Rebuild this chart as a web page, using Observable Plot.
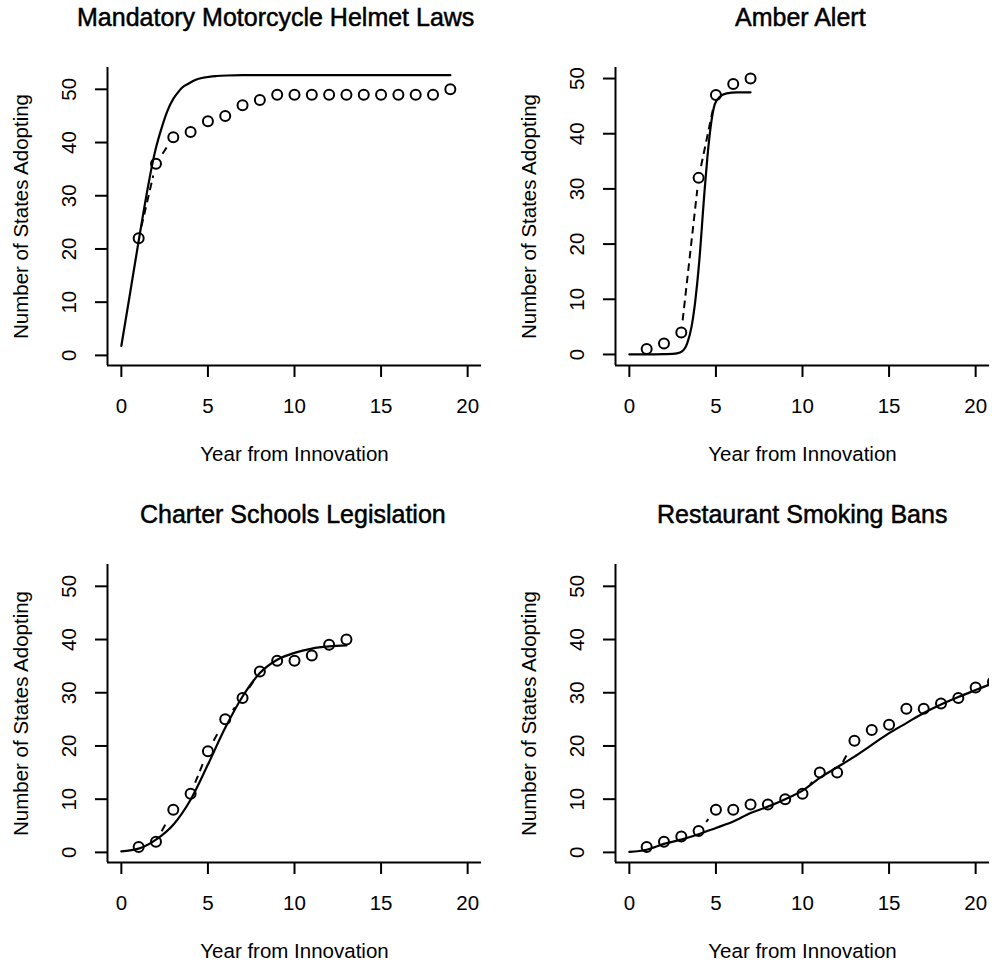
<!DOCTYPE html>
<html>
<head>
<meta charset="utf-8">
<script src="https://cdn.jsdelivr.net/npm/d3@7"></script>
<script src="https://cdn.jsdelivr.net/npm/@observablehq/plot@0.6"></script>
<style>
html, body { margin: 0; padding: 0; background: #fff; overflow: hidden; }
#root { position: relative; width: 992px; height: 963px; overflow: hidden; background: #fff;
  font-family: "Liberation Sans", Arial, Helvetica, sans-serif; }
.panel { position: absolute; width: 496px; height: 497px; }
.panel svg { max-width: none !important; width: 496px; height: 497px; display: block; }
.title { position: absolute; font-size: 25px; line-height: 25px; font-weight: normal; white-space: nowrap; color: #000;
  -webkit-text-stroke: 0.5px #000; }
</style>
</head>
<body>
<div id="root"></div>
<script>
// ---------- data ----------
const xTicks = [0, 5, 10, 15, 20];
const yTicks = [0, 10, 20, 30, 40, 50];
const xLabel = "Year from Innovation";
const yLabel = "Number of States Adopting";

const helmetTitle = "Mandatory Motorcycle Helmet Laws";
const helmetYears = [1,2,3,4,5,6,7,8,9,10,11,12,13,14,15,16,17,18,19];
const helmetStates = [22,36,41,42,44,45,47,48,49,49,49,49,49,49,49,49,49,49,50];
const helmetFitX = [0,0.5,1,1.5,1.83,2.0,2.35,2.68,3.0,3.22,3.5,3.89,4.3,4.76,5.5,6.1,7,9,12,16,19];
const helmetFitY = [1.8,11.6,21.5,31,36.6,39,43,46.1,48.2,49.2,50.3,51.1,51.8,52.2,52.5,52.6,52.65,52.65,52.65,52.65,52.65];

const amberTitle = "Amber Alert";
const amberYears = [1,2,3,4,5,6,7];
const amberStates = [1,2,4,32,47,49,50];
const amberFitX = [0,1,2,2.5,2.75,3.02,3.34,3.59,3.8,4.04,4.33,4.5,4.69,4.94,5.2,5.62,6.2,7];
const amberFitY = [0,0,0.05,0.1,0.2,0.5,2.0,5.0,9.5,17.0,29.1,35.5,41.1,45.4,46.6,47.3,47.5,47.5];

const charterTitle = "Charter Schools Legislation";
const charterYears = [1,2,3,4,5,6,7,8,9,10,11,12,13];
const charterStates = [1,2,8,11,19,25,29,34,36,36,37,39,40];
const charterFitX = [0,1,2,3,4,5,6,7,8,9,10,11,12,13];
const charterFitY = [0.2,0.7,2.4,5.2,9.9,16.5,23.4,29.3,33.7,36.2,37.5,38.3,38.7,38.9];

const smokingTitle = "Restaurant Smoking Bans";
const smokingYears = [1,2,3,4,5,6,7,8,9,10,11,12,13,14,15,16,17,18,19,20,21];
const smokingStates = [1,2,3,4,8,8,9,9,10,11,15,15,21,23,24,27,27,28,29,31,32];
const smokingFitX = [0,1,2,3,4,5,6,7,8,9,10,11,12,13,14,15,16,17,18,19,20,21];
const smokingFitY = [0.1,0.5,1.6,2.4,3.4,4.6,5.8,7.4,8.6,10.0,11.6,14.0,16.0,18.0,20.2,22.4,24.3,26.2,27.8,29.2,30.5,31.8];

// ---------- drawing ----------
const root = document.getElementById("root");
const FONT = '"Liberation Sans", Arial, Helvetica, sans-serif';
const xDomain = [-0.8, 20.8];

function panel({years, states, fitX, fitY, yDomain, left, top, title, titleLeft}) {
  const pts = years.map((x, i) => ({x, y: states[i]}));
  const segs = pts.slice(1).map((p, i) => ({x1: pts[i].x, y1: pts[i].y, x2: p.x, y2: p.y}));
  const fit = fitX.map((x, i) => ({x, y: fitY[i]}));
  const chart = Plot.plot({
    width: 496, height: 497,
    marginLeft: 107, marginRight: 15, marginTop: 67, marginBottom: 132,
    x: {domain: xDomain},
    y: {domain: yDomain},
    style: {fontFamily: FONT, fontSize: "20.5px", color: "black", background: "white", overflow: "visible"},
    marks: [
      Plot.ruleX([xDomain[0]], {stroke: "black", strokeWidth: 2}),
      Plot.ruleY([yDomain[0]], {stroke: "black", strokeWidth: 2}),
      Plot.axisX({ticks: xTicks, tickSize: 12, tickPadding: 21, strokeWidth: 2, label: null, fontSize: 20.5}),
      Plot.axisY({ticks: yTicks, tickSize: 12, tickPadding: 20, tickRotate: -90, strokeWidth: 2, label: null, fontSize: 20.5}),
      Plot.dot(pts, {x: "x", y: "y", r: 5, stroke: "black", strokeWidth: 2, fill: "none", clip: true}),
      Plot.arrow(segs, {x1: "x1", y1: "y1", x2: "x2", y2: "y2", insetStart: 12, insetEnd: 12, headLength: 0,
        stroke: "black", strokeWidth: 2, strokeDasharray: "7.5,5", strokeLinecap: "butt", clip: true}),
      Plot.line(fit, {x: "x", y: "y", curve: "monotone-x", stroke: "black", strokeWidth: 2.2, clip: true}),
      Plot.text([xLabel], {text: d => d, frameAnchor: "bottom", dy: 81, lineAnchor: "top", textAnchor: "middle", fontSize: 20.5, fill: "black"}),
      Plot.text([yLabel], {text: d => d, frameAnchor: "left", dx: -94, rotate: -90, lineAnchor: "top", textAnchor: "middle", fontSize: 20.5, fill: "black"})
    ]
  });
  const div = document.createElement("div");
  div.className = "panel";
  div.style.left = left + "px";
  div.style.top = top + "px";
  div.appendChild(chart);
  root.appendChild(div);
  const t = document.createElement("div");
  t.className = "title";
  t.textContent = title;
  t.style.left = titleLeft + "px";
  t.style.top = (top + 5) + "px";
  root.appendChild(t);
}

panel({years: helmetYears, states: helmetStates, fitX: helmetFitX, fitY: helmetFitY,
  yDomain: [-1.9, 54.1], left: 0, top: 0, title: helmetTitle, titleLeft: 77});
panel({years: amberYears, states: amberStates, fitX: amberFitX, fitY: amberFitY,
  yDomain: [-2, 52], left: 508, top: 0, title: amberTitle, titleLeft: 735});
panel({years: charterYears, states: charterStates, fitX: charterFitX, fitY: charterFitY,
  yDomain: [-1.9, 54.1], left: 0, top: 497, title: charterTitle, titleLeft: 140});
panel({years: smokingYears, states: smokingStates, fitX: smokingFitX, fitY: smokingFitY,
  yDomain: [-1.9, 54.1], left: 508, top: 497, title: smokingTitle, titleLeft: 657});
</script>
</body>
</html>
